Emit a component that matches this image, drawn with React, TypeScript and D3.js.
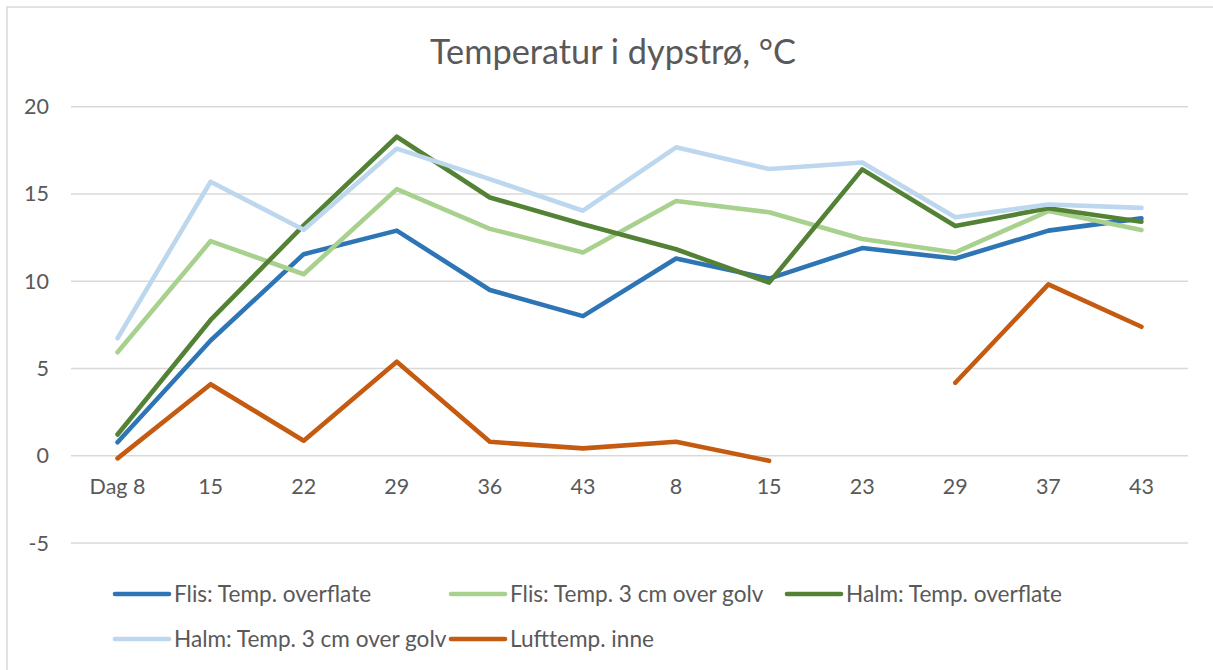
import React from "react";
import * as d3 from "d3";

const categories = ["Dag 8", "15", "22", "29", "36", "43", "8", "15", "23", "29", "37", "43"];
const flisOverflate = [0.77, 6.6, 11.55, 12.9, 9.5, 8.0, 11.3, 10.15, 11.9, 11.3, 12.9, 13.6];
const flis3cm = [5.93, 12.3, 10.4, 15.28, 13.0, 11.65, 14.6, 13.95, 12.42, 11.65, 14.02, 12.93];
const halmOverflate = [1.22, 7.78, 13.2, 18.28, 14.8, 13.26, 11.83, 9.92, 16.41, 13.16, 14.18, 13.41];
const halm3cm = [6.73, 15.7, 12.95, 17.6, 15.85, 14.04, 17.67, 16.43, 16.8, 13.66, 14.4, 14.2];
const luftInne: (number | null)[] = [-0.15, 4.1, 0.86, 5.39, 0.8, 0.42, 0.8, -0.29, null, 4.18, 9.82, 7.39];
const yTicks = [-5, 0, 5, 10, 15, 20];

const seriesNames = [
  "Flis: Temp. overflate",
  "Flis: Temp. 3 cm over golv",
  "Halm: Temp. overflate",
  "Halm: Temp. 3 cm over golv",
  "Lufttemp. inne",
];
const seriesColors = ["#2E75B6", "#A9D18E", "#548235", "#BDD7EE", "#C55A11"];
const seriesData: (number | null)[][] = [flisOverflate, flis3cm, halmOverflate, halm3cm, luftInne];
const drawOrder = [0, 1, 2, 3, 4];

const W = 1213;
const H = 670;
const FONT = "Lato, 'Open Sans', sans-serif";
const TEXT = "#595959";

export default function App() {
  const x = d3.scaleBand<number>().domain(d3.range(categories.length)).range([71, 1188]);
  const y = d3.scaleLinear().domain([-5, 20]).range([543, 106.7]);
  const line = d3
    .line<number | null>()
    .defined((d) => d !== null)
    .x((_, i) => (x(i) as number) + x.bandwidth() / 2)
    .y((d) => y(d as number));

  const legendItems = [
    { s: 0, lx: 115, row: 0 },
    { s: 1, lx: 451, row: 0 },
    { s: 2, lx: 787, row: 0 },
    { s: 3, lx: 115, row: 1 },
    { s: 4, lx: 451, row: 1 },
  ];
  const rowY = [594, 639];

  return (
    <svg
      width={W}
      height={H}
      style={{ position: "absolute", left: 0, top: 0, background: "#fff" }}
      fontFamily={FONT}
    >
      <rect x={7} y={7} width={W + 20} height={H + 20} fill="#fff" stroke="#D9D9D9" strokeWidth={1.5} />
      <text x={613} y={64} textAnchor="middle" fontSize={34.3} fill={TEXT}>
        Temperatur i dypstrø, °C
      </text>
      {yTicks.map((t) => (
        <g key={t}>
          <line x1={71} x2={1188} y1={y(t)} y2={y(t)} stroke="#D9D9D9" strokeWidth={1.5} />
          <text x={49} y={y(t)} dy="0.35em" textAnchor="end" fontSize={21.5} fill={TEXT}>
            {t}
          </text>
        </g>
      ))}
      {categories.map((c, i) => (
        <text
          key={i}
          x={(x(i) as number) + x.bandwidth() / 2}
          y={494}
          textAnchor="middle"
          fontSize={21.5}
          fill={TEXT}
        >
          {c}
        </text>
      ))}
      {drawOrder.map((s) => (
        <path
          key={s}
          d={line(seriesData[s]) || ""}
          fill="none"
          stroke={seriesColors[s]}
          strokeWidth={4.6}
          strokeLinecap="round"
          strokeLinejoin="round"
        />
      ))}
      {legendItems.map((it) => (
        <g key={it.s}>
          <line
            x1={it.lx}
            x2={it.lx + 54}
            y1={rowY[it.row]}
            y2={rowY[it.row]}
            stroke={seriesColors[it.s]}
            strokeWidth={4.6}
            strokeLinecap="round"
          />
          <text x={it.lx + 59} y={rowY[it.row]} dy="0.35em" fontSize={22.6} fill={TEXT}>
            {seriesNames[it.s]}
          </text>
        </g>
      ))}
    </svg>
  );
}
